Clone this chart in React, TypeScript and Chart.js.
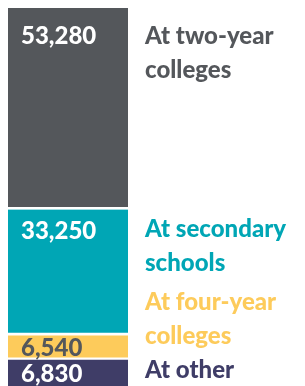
import React, { useEffect, useRef } from "react";
import { Chart, registerables } from "chart.js";

Chart.register(...registerables);

const categories = ["Teachers"];
const seriesNames = ["At other", "At four-year colleges", "At secondary schools", "At two-year colleges"];
const labelLines = [["At other"], ["At four-year", "colleges"], ["At secondary", "schools"], ["At two-year", "colleges"]];
const seriesValues = [6830, 6540, 33250, 53280];
const valueLabels = ["6,830", "6,540", "33,250", "53,280"];
const barColors = ["#3f3d67", "#fdcb5b", "#00a6b5", "#54575b"];
const nameColors = ["#3f3d67", "#fdcb5b", "#00a6b5", "#54575b"];
const valueColors = ["#ffffff", "#54575b", "#ffffff", "#ffffff"];

const FONT = "900 24px Lato";

const labelPlugin = {
  id: "segmentLabels",
  afterDatasetsDraw(chart: any) {
    const ctx = chart.ctx;
    const valueOffsets = [21.7, 21, 29.4, 36];
    const nameOffsets = [17.7, -25.2, 27.4, 36];
    ctx.save();
    ctx.font = FONT;
    ctx.textBaseline = "alphabetic";
    ctx.textAlign = "left";
    chart.data.datasets.forEach((ds: any, i: number) => {
      const meta = chart.getDatasetMeta(i);
      const bar: any = meta.data[0];
      if (!bar) return;
      const left = bar.x - bar.width / 2;
      const top = Math.min(bar.y, bar.base);
      ctx.fillStyle = valueColors[i];
      ctx.fillText(valueLabels[i], left + 13, top + valueOffsets[i]);
      ctx.fillStyle = nameColors[i];
      const nx = chart.chartArea.right + 17;
      labelLines[i].forEach((line, j) => {
        ctx.fillText(line, nx, top + nameOffsets[i] + j * 33.5);
      });
    });
    ctx.restore();
  },
};

export default function App() {
  const ref = useRef<HTMLCanvasElement>(null);
  useEffect(() => {
    if (!ref.current) return;
    const total = seriesValues.reduce((a, b) => a + b, 0);
    const chart = new Chart(ref.current, {
      type: "bar",
      data: {
        labels: categories,
        datasets: seriesNames.map((name, i) => ({
          label: name,
          data: [seriesValues[i]],
          backgroundColor: barColors[i],
          borderColor: "#ffffff",
          borderWidth: i === 0 ? 0 : { top: 0, left: 0, right: 0, bottom: 3 },
          borderSkipped: false,
          categoryPercentage: 1,
          barPercentage: 1,
        })),
      },
      options: {
        animation: false,
        responsive: true,
        maintainAspectRatio: false,
        layout: { padding: { left: 0, top: 0, bottom: 0, right: 177 } },
        plugins: { legend: { display: false }, tooltip: { enabled: false } },
        scales: {
          x: { stacked: true, display: false },
          y: { stacked: true, display: false, min: 0, max: total },
        },
      },
      plugins: [labelPlugin],
    });
    return () => chart.destroy();
  }, []);
  return (
    <div style={{ position: "fixed", left: 8, top: 8, width: 297, height: 378 }}>
      <canvas ref={ref} />
    </div>
  );
}
